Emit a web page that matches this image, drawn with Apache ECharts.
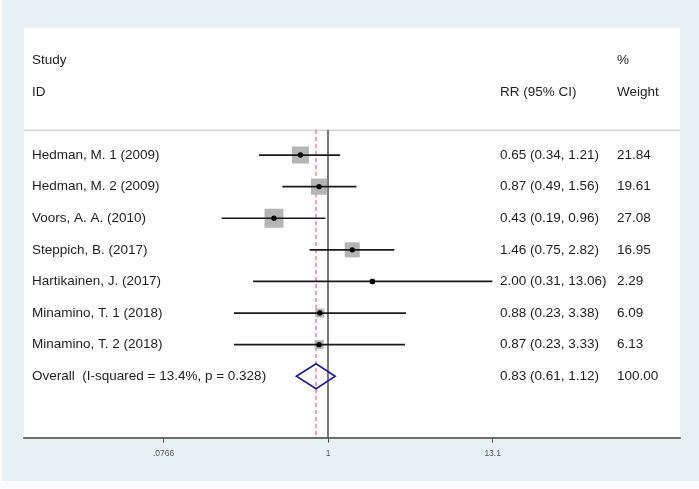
<!DOCTYPE html>
<html>
<head>
<meta charset="utf-8">
<script src="https://cdn.jsdelivr.net/npm/echarts@6/dist/echarts.min.js"></script>
<style>
  html, body { margin: 0; padding: 0; background: #fafdfd; }
  #chart { position: absolute; left: 2px; top: 0; width: 697px; height: 481px; }
</style>
</head>
<body>
<div id="chart"></div>
<script>
// study rows
const studies = ['Hedman, M. 1 (2009)', 'Hedman, M. 2 (2009)', 'Voors, A. A. (2010)', 'Steppich, B. (2017)',
  'Hartikainen, J. (2017)', 'Minamino, T. 1 (2018)', 'Minamino, T. 2 (2018)'];
const rr = [0.65, 0.87, 0.43, 1.46, 2.00, 0.88, 0.87];
const ciLow = [0.34, 0.49, 0.19, 0.75, 0.31, 0.23, 0.23];
const ciHigh = [1.21, 1.56, 0.96, 2.82, 13.06, 3.38, 3.33];
const weights = [21.84, 19.61, 27.08, 16.95, 2.29, 6.09, 6.13];

// pooled estimate
const overallLabel = 'Overall  (I-squared = 13.4%, p = 0.328)';
const overallRR = 0.83;
const overallLow = 0.61;
const overallHigh = 1.12;
const overallWeight = 100.00;

// axis
const tickValues = [0.0766, 1, 13.1];
const tickLabels = ['.0766', '1', '13.1'];

const FONT = '13.5px "Liberation Sans", Arial, sans-serif';
const TEXT = '#1e1e1e';
const COL_ID = 30, COL_CI = 498, COL_W = 615; // pixel columns of the text table

const tickPos = tickValues.map(Math.log);
const fmt = v => v.toFixed(2);
const ciText = (e, l, h) => fmt(e) + ' (' + fmt(l) + ', ' + fmt(h) + ')';

const chart = echarts.init(document.getElementById('chart'));

function txt(x, y, s) {
  return { type: 'text', style: { x: x, y: y, text: s, font: FONT, fill: TEXT, verticalAlign: 'middle', align: 'left' } };
}

const option = {
  backgroundColor: '#e8f2f5',
  animation: false,
  grid: { left: 22, right: 19, top: 28, bottom: 43.3, show: true, backgroundColor: '#ffffff', borderWidth: 0 },
  xAxis: {
    type: 'value', min: -4.75, max: 5.5,
    splitLine: { show: false },
    axisLine: { show: true, onZero: false, lineStyle: { color: '#6e6e6e', width: 2 } },
    axisTick: { show: true, customValues: tickPos, length: 5, lineStyle: { color: '#555', width: 1 } },
    axisLabel: {
      customValues: tickPos, margin: 11, fontSize: 8.5, color: '#555',
      fontFamily: '"Liberation Sans", Arial, sans-serif',
      formatter: v => tickLabels[tickPos.findIndex(p => Math.abs(p - v) < 1e-6)]
    }
  },
  yAxis: { type: 'value', inverse: true, min: -4.02, max: 8.945, show: false },
  series: [
    {
      // headers, separator and reference lines
      type: 'custom', z: 1, clip: false,
      data: [[0]],
      renderItem: function (params, api) {
        const top = api.coord([0, -0.79])[1];
        const bottom = api.coord([0, 8.945])[1];
        const xl = params.coordSys.x, xr = params.coordSys.x + params.coordSys.width;
        const x1 = api.coord([0, 0])[0];
        const xo = api.coord([Math.log(overallRR), 0])[0];
        const yS = api.coord([0, -3])[1], yI = api.coord([0, -2])[1];
        return {
          type: 'group', children: [
            txt(COL_ID, yS, 'Study'), txt(COL_ID, yI, 'ID'),
            txt(COL_CI, yI, 'RR (95% CI)'),
            txt(COL_W, yS, '%'), txt(COL_W, yI, 'Weight'),
            { type: 'line', shape: { x1: xl, y1: top, x2: xr, y2: top }, style: { stroke: '#cccccc', lineWidth: 1.2 } },
            { type: 'line', shape: { x1: x1, y1: top, x2: x1, y2: bottom }, style: { stroke: '#333333', lineWidth: 1.3 } },
            { type: 'line', shape: { x1: xo, y1: top, x2: xo, y2: bottom }, style: { stroke: '#dd5c6c', lineWidth: 1.1, lineDash: [4, 3] } }
          ]
        };
      }
    },
    {
      // individual studies
      type: 'custom', z: 2, clip: false,
      data: studies.map((s, i) => [i, rr[i], ciLow[i], ciHigh[i], weights[i]]),
      renderItem: function (params, api) {
        const i = api.value(0);
        const y = api.coord([0, i])[1];
        const xe = api.coord([Math.log(api.value(1)), i])[0];
        const xl = api.coord([Math.log(api.value(2)), i])[0];
        const xh = api.coord([Math.log(api.value(3)), i])[0];
        const side = 3.65 * Math.sqrt(api.value(4));
        return {
          type: 'group', children: [
            { type: 'rect', shape: { x: xe - side / 2, y: y - side / 2, width: side, height: side }, style: { fill: '#b5b5b5' } },
            { type: 'line', shape: { x1: xl, y1: y, x2: xh, y2: y }, style: { stroke: '#1a1a1a', lineWidth: 1.7 } },
            { type: 'circle', shape: { cx: xe, cy: y, r: 2.7 }, style: { fill: '#000' } },
            txt(COL_ID, y, studies[i]),
            txt(COL_CI, y, ciText(api.value(1), api.value(2), api.value(3))),
            txt(COL_W, y, fmt(api.value(4)))
          ]
        };
      }
    },
    {
      // pooled diamond
      type: 'custom', z: 3, clip: false,
      data: [[studies.length, overallRR, overallLow, overallHigh, overallWeight]],
      renderItem: function (params, api) {
        const r = api.value(0);
        const y = api.coord([0, r])[1];
        const xe = api.coord([Math.log(api.value(1)), r])[0];
        const xl = api.coord([Math.log(api.value(2)), r])[0];
        const xh = api.coord([Math.log(api.value(3)), r])[0];
        return {
          type: 'group', children: [
            { type: 'polygon', shape: { points: [[xl, y], [xe, y - 12.5], [xh, y], [xe, y + 12.5]] },
              style: { fill: 'none', stroke: '#1f1f85', lineWidth: 1.6 } },
            txt(COL_ID, y, overallLabel),
            txt(COL_CI, y, ciText(api.value(1), api.value(2), api.value(3))),
            txt(COL_W, y, fmt(api.value(4)))
          ]
        };
      }
    }
  ]
};

chart.setOption(option);
</script>
</body>
</html>
